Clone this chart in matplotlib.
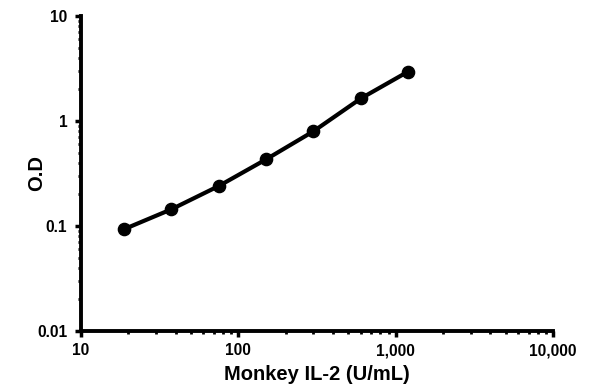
import numpy as np
import matplotlib.pyplot as plt
from matplotlib.ticker import FixedLocator, LogLocator, NullFormatter

# standard curve readings
conc = [18.75, 37.5, 75, 150, 300, 600, 1200]
od = [0.093, 0.144, 0.240, 0.431, 0.798, 1.64, 2.96]

x_ticks = [10, 100, 1000, 10000]
x_tick_labels = ['10', '100', '1,000', '10,000']
y_ticks = [0.01, 0.1, 1, 10]
y_tick_labels = ['0.01', '0.1', '1', '10']

plt.rcParams['font.family'] = ['Liberation Sans', 'DejaVu Sans']
plt.rcParams['font.weight'] = 'bold'

fig = plt.figure(figsize=(5.96, 3.92), dpi=100)
ax = fig.add_axes([0.136, 0.156, 0.792, 0.803])

ax.plot(conc, od, color='black', linewidth=3, marker='o', markersize=8.8,
        solid_capstyle='round', solid_joinstyle='round')

ax.set_xscale('log')
ax.set_yscale('log')
ax.set_xlim(10, 10000)
ax.set_ylim(0.01, 10)

ax.xaxis.set_major_locator(FixedLocator(x_ticks))
ax.set_xticklabels(x_tick_labels)
ax.yaxis.set_major_locator(FixedLocator(y_ticks))
ax.set_yticklabels(y_tick_labels)
ax.xaxis.set_minor_locator(LogLocator(base=10, subs=np.arange(2, 10)))
ax.yaxis.set_minor_locator(LogLocator(base=10, subs=np.arange(2, 10)))
ax.xaxis.set_minor_formatter(NullFormatter())
ax.yaxis.set_minor_formatter(NullFormatter())

for side in ['top', 'right']:
    ax.spines[side].set_visible(False)
for side in ['left', 'bottom']:
    ax.spines[side].set_linewidth(2.8)

ax.tick_params(which='major', direction='out', length=4, width=2.5,
               labelsize=11.2)
ax.tick_params(axis='y', which='major', pad=6)
ax.tick_params(axis='x', which='major', pad=5)
ax.tick_params(which='minor', direction='out', length=2.5, width=2)

ax.set_xlabel('Monkey IL-2 (U/mL)', fontsize=14.5, fontweight='bold', va='center')
ax.set_ylabel('O.D', fontsize=14.5, fontweight='bold', va='center')
ax.xaxis.set_label_coords(0.5, -0.14)
ax.yaxis.set_label_coords(-0.095, 0.5)

fig.savefig('out.png', dpi=100)
